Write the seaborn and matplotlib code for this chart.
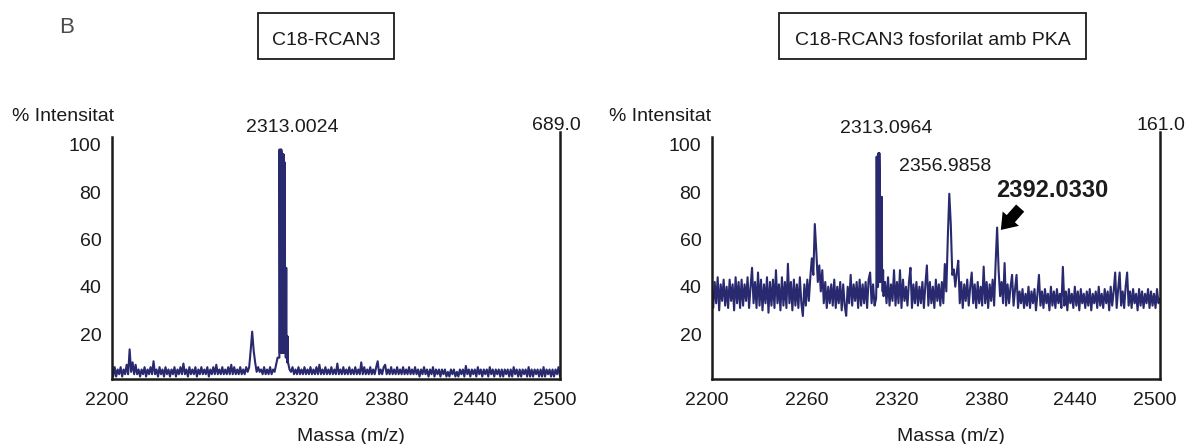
import numpy as np
import pandas as pd
import matplotlib.pyplot as plt
import seaborn as sns
from matplotlib.patches import Rectangle, FancyArrowPatch
from matplotlib.transforms import ScaledTranslation

# --- data (one reading per Da, 2200..2500) ---
mz_start = 2200

c18_int = [
    9, 2, 6, 2, 5, 3, 6, 2, 5, 3, 7, 3, 13.5, 4, 8, 3, 7, 3, 5, 2,
    5, 3, 6, 2, 5, 3, 6, 3, 8.5, 3, 5, 2, 6, 3, 5, 2, 6, 3, 5, 2,
    5, 3, 6, 2, 5, 3, 6, 3, 7.5, 3, 5, 2, 6, 3, 5, 3, 6, 2, 5, 3,
    6, 3, 5, 3, 6, 2, 5, 3, 6, 3, 7, 3, 5, 3, 6, 3, 5, 3, 6, 3,
    7, 3, 6, 3, 5, 3, 6, 3, 5, 3, 6, 4, 6, 13, 21, 13, 8, 4, 6, 4,
    5, 3, 6, 3, 5, 3, 6, 3, 5, 4, 7, 10, 10, 12, 12, 96, 12, 19, 8, 5,
    4, 6, 3, 5, 3, 6, 3, 5, 3, 6, 3, 5, 3, 6, 3, 5, 3, 6, 3, 7,
    3, 5, 3, 6, 3, 5, 3, 6, 3, 5, 3, 7.5, 3, 5, 3, 6, 3, 5, 3, 6,
    3, 5, 3, 6, 3, 5, 3, 8, 3, 6, 3, 5, 3, 6, 3, 5, 3, 6, 8.5, 3,
    5, 3, 6, 7, 3, 5, 3, 6, 3, 5, 3, 6, 3, 5, 3, 6, 3, 5, 3, 6,
    3, 5, 3, 6, 3, 5, 2, 5, 3, 6, 3, 5, 2, 5, 3, 6, 2, 5, 3, 5,
    2, 5, 3, 5, 2, 4, 2, 5, 3, 5, 2, 4, 2, 5, 3, 5, 2, 6.5, 3, 5,
    2, 5, 3, 5, 2, 6, 3, 5, 2, 5, 3, 5, 2, 6, 3, 5, 2, 5, 3, 5,
    2, 5, 2, 5, 3, 5, 2, 5, 2, 6, 3, 5, 2, 5, 2, 5, 3, 5, 2, 6,
    2, 5, 2, 5, 3, 5, 2, 5, 2, 6, 2, 5, 3, 5, 2, 5, 2, 5, 3, 6, 2,
]
# extra profile points inside the broad 2313 peak
c18_peak_mz = [2312.2, 2312.3, 2312.6, 2312.9, 2313.2, 2313.5, 2313.8, 2314.1, 2314.4,
               2314.7, 2315.3, 2315.6, 2315.9, 2316.2, 2316.5, 2316.8, 2317.1, 2317.4, 2317.7]
c18_peak_int = [10, 98, 12, 98, 12, 98, 96, 12, 96,
                12, 92.5, 12, 92.5, 48, 10, 48, 19, 8, 19]

pka_int = [
    36, 31, 42, 33, 44, 30, 41, 34, 43, 32, 40, 31, 43, 34, 41, 30, 44, 33, 42, 31,
    43, 32, 41, 34, 44, 31, 40, 48, 33, 42, 31, 46, 32, 43, 30, 41, 33, 44, 29, 42,
    32, 43, 31, 47, 33, 41, 30, 44, 32, 42, 31, 49.7, 33, 42, 30, 43, 32, 41, 31, 44,
    33, 27.6, 41, 32, 43, 34, 44, 52, 45, 66.5, 55, 42, 49, 38, 47, 33, 42, 31, 40, 33,
    41, 32, 43, 31, 40, 33, 42, 30, 41, 32, 27.7, 40, 33, 45, 32, 41, 34, 42, 31, 43,
    32, 41, 33, 42, 31, 43, 46, 33, 41, 32, 35, 40, 42, 42, 45, 36, 42, 33, 44, 32,
    41, 34, 47, 32, 42, 33, 47, 31, 43, 34, 40, 32, 42, 48, 31, 41, 33, 42, 32, 40,
    33, 42, 31, 41, 49, 32, 42, 33, 40, 31, 43, 34, 41, 32, 42, 33, 49.6, 38, 60.7, 79.3,
    66.3, 45, 47.3, 40, 46, 51, 33, 42, 31, 41, 34, 43, 32, 40, 46, 33, 41, 31, 42, 33,
    40, 32, 48.5, 33, 42, 31, 41, 34, 43, 32, 50, 65, 47, 36, 42, 33, 50, 32, 41, 33,
    40, 45, 32, 39, 45, 31, 38, 33, 39, 31, 37, 32, 40, 31, 38, 33, 39, 30, 37, 45,
    32, 38, 31, 39, 33, 37, 30, 40, 32, 38, 31, 39, 33, 37, 31, 48.4, 32, 38, 30, 39,
    33, 37, 31, 40, 32, 38, 30, 39, 33, 37, 31, 38, 32, 39, 30, 37, 33, 38, 31, 40,
    32, 37, 31, 39, 33, 38, 30, 40, 32, 38, 46, 31, 39, 46, 32, 38, 31, 40, 46, 32,
    38, 31, 39, 33, 37, 30, 39, 32, 38, 31, 37, 33, 39, 31, 38, 32, 37, 31, 39, 33, 35,
]
pka_peak_mz = [2310.2, 2310.4, 2310.7, 2311.1, 2311.3, 2311.6, 2311.9, 2312.2,
               2312.6, 2312.9, 2313.2, 2313.5, 2313.8, 2314.1, 2314.4, 2314.7]
pka_peak_int = [40, 95, 40, 95, 40, 96.5, 42, 96.5,
                78, 42, 78, 42, 78, 47, 38, 47]

titles = ["C18-RCAN3", "C18-RCAN3 fosforilat amb PKA"]
max_counts = ["689.0", "161.0"]
xtick_labels = ["2200", "2260", "2320", "2380", "2440", "2500"]
# where the reference actually draws those ticks on the m/z scale
xtick_pos = [2200, 2267.2, 2327, 2387.2, 2446.5, 2500]
ytick_vals = [20, 40, 60, 80, 100]

W, H = 1187, 444
NAVY = "#28296e"
INK = "#1c1a1b"


def px(x, y):
    return x / W, 1 - y / H


def spectrum_frame(grid, extra_mz, extra_int):
    mz = mz_start + np.arange(len(grid))
    df = pd.DataFrame({
        "mz": np.concatenate([mz, extra_mz]),
        "intensity": np.concatenate([grid, extra_int]),
    })
    return df.sort_values("mz").reset_index(drop=True)


sns.set_style("white")
plt.rcParams["font.family"] = ["Liberation Sans", "DejaVu Sans"]

fig = plt.figure(figsize=(W / 100, H / 100), dpi=100)

panels = [
    (111.7, spectrum_frame(c18_int, c18_peak_mz, c18_peak_int)),
    (711.7, spectrum_frame(pka_int, pka_peak_mz, pka_peak_int)),
]
ax_w, ax_top, ax_bot = 448.3, 137.0, 379.3

for left, df in panels:
    ax = fig.add_axes([left / W, 1 - ax_bot / H, ax_w / W, (ax_bot - ax_top) / H])
    sns.lineplot(data=df, x="mz", y="intensity", ax=ax, estimator=None,
                 sort=True, color=NAVY, linewidth=1.5)
    ax.set_xlim(2200, 2500)
    ax.set_ylim(0.85, 103.3)
    ax.set_xlabel("")
    ax.set_ylabel("")
    ax.set_yticks(ytick_vals)
    ax.set_xticks(xtick_pos)
    ax.set_xticklabels(xtick_labels)
    ax.tick_params(axis="both", direction="out", length=6, width=1.8,
                   labelsize=14, colors=INK, pad=1.5)
    ax.tick_params(axis="x", pad=3.5)
    for lbl in ax.get_xticklabels():
        lbl.set_transform(lbl.get_transform() +
                          ScaledTranslation(-0.05, 0, fig.dpi_scale_trans))
    ax.spines["top"].set_visible(False)
    for side in ["left", "bottom", "right"]:
        ax.spines[side].set_linewidth(1.8)
        ax.spines[side].set_color(INK)
    ax.spines["right"].set_bounds(0.85, 105.4)

# panel letter
fig.text(*px(59, 33), "B", fontsize=16, color="#4a4a4a", ha="left", va="baseline")

# boxed titles
boxes = [(258, 394), (779, 1086)]
for (x0, x1), title in zip(boxes, titles):
    fx0, fy0 = px(x0, 59)
    fx1, fy1 = px(x1, 12.7)
    fig.add_artist(Rectangle((fx0, fy0), fx1 - fx0, fy1 - fy0, transform=fig.transFigure,
                             fill=False, lw=1.3, ec=INK))
    fig.text(*px((x0 + x1) / 2, 45), title, fontsize=14, color=INK,
             ha="center", va="baseline")

# axis labels
for x in [12, 609]:
    fig.text(*px(x, 121), "% Intensitat", fontsize=14, color=INK, ha="left", va="baseline")
for x in [351, 950.5]:
    fig.text(*px(x, 441), "Massa (m/z)", fontsize=14, color=INK, ha="center", va="baseline")

# max count labels above right spine
for x, txt in zip([556, 1161], max_counts):
    fig.text(*px(x, 130.5), txt, fontsize=14, color=INK, ha="center", va="baseline")

# peak labels
fig.text(*px(292.5, 132), "2313.0024", fontsize=14, color=INK, ha="center", va="baseline")
fig.text(*px(886, 133), "2313.0964", fontsize=14, color=INK, ha="center", va="baseline")
fig.text(*px(945.5, 171), "2356.9858", fontsize=14, color=INK, ha="center", va="baseline")
fig.text(*px(1052.5, 197), "2392.0330", fontsize=17, fontweight="bold", color=INK,
         ha="center", va="baseline")

arrow = FancyArrowPatch(px(1022, 206), px(999, 232), transform=fig.transFigure,
                        arrowstyle="simple,head_length=0.9,head_width=1.3,tail_width=0.65",
                        mutation_scale=12, color="black", lw=0)
fig.add_artist(arrow)

fig.savefig("out.png", dpi=100)
